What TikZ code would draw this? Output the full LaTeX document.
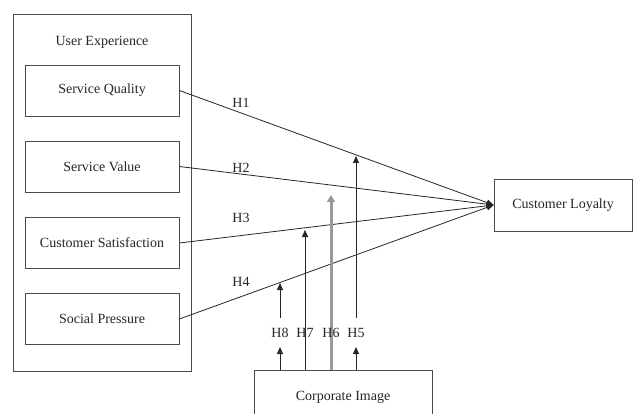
\documentclass[tikz,border=0pt]{standalone}
\usepackage{fontspec}
\setmainfont{Liberation Serif}
\usetikzlibrary{arrows.meta}
\begin{document}
\begin{tikzpicture}[x=1pt,y=-1pt,
  box/.style={draw=black!70, line width=0.8pt, minimum width=154pt, minimum height=51pt, inner sep=0pt, font=\fontsize{14}{16}\selectfont, text=black!85},
  conn/.style={draw=black!85, line width=0.8pt},
  arr/.style={conn, -{Triangle[width=6pt,length=7pt]}},
  grayarr/.style={draw=black!40, line width=3pt, -{Triangle[width=8pt,length=7pt]}},
  lbl/.style={font=\fontsize{14}{16}\selectfont, text=black!85, inner sep=1pt}]
\clip (0,0) rectangle (637,414);
\fill[white] (0,0) rectangle (637,414);
% containers
\node[box, minimum width=178pt, minimum height=357pt] (ux) at (102,192.5) {};
\node[lbl] (uxl) at (102,42) {User Experience};
\node[box] (sq) at (102,90.5) {Service Quality};
\node[box] (sv) at (102,166.5) {Service Value};
\node[box] (cs) at (102,243) {Customer Satisfaction};
\node[box] (sp) at (102,319) {Social Pressure};
\node[box, minimum width=138pt, minimum height=52pt] (cl) at (563,205) {Customer Loyalty};
\node[box, minimum width=178pt, minimum height=54pt] (ci) at (343,397) {Corporate Image};
% main paths
\draw[arr] (sq.east) -- (cl.west);
\draw[arr] (sv.east) -- (cl.west);
\draw[arr] (cs.east) -- (cl.west);
\draw[arr] (sp.east) -- (cl.west);
\node[lbl] (h1) at (241,103) {H1};
\node[lbl] (h2) at (241,168) {H2};
\node[lbl] (h3) at (241,218) {H3};
\node[lbl] (h4) at (241,282) {H4};
% moderation
\coordinate (b8) at (280,370);
\coordinate (b7) at (305,370);
\coordinate (b6) at (331,370);
\coordinate (b5) at (356,370);
\coordinate (t8lo) at (280,347);
\coordinate (t5lo) at (356,347);
\coordinate (t8) at (280,283);
\coordinate (t7) at (305,230);
\coordinate (t6) at (331,195);
\coordinate (t5) at (356,156);
\coordinate (s8) at (280,318);
\coordinate (s5) at (356,318);
\draw[arr] (b8) -- (t8lo);
\draw[arr] (s8) -- (t8);
\draw[arr] (b7) -- (t7);
\draw[grayarr] (b6) -- (t6);
\draw[arr] (b5) -- (t5lo);
\draw[arr] (s5) -- (t5);
\node[lbl] (h8) at (280,333) {H8};
\node[lbl] (h7) at (305,333) {H7};
\node[lbl] (h6) at (331,333) {H6};
\node[lbl] (h5) at (356,333) {H5};
\end{tikzpicture}
\end{document}
